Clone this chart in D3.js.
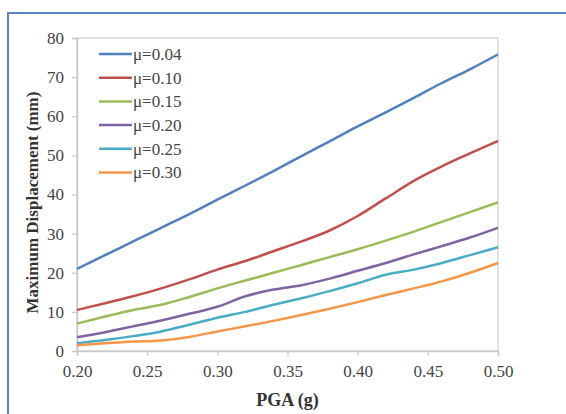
<!DOCTYPE html>
<html>
<head>
<meta charset="utf-8">
<script src="https://cdn.jsdelivr.net/npm/d3@7"></script>
<style>
  body { margin: 0; background: #fff; }
  svg { display: block; }
</style>
</head>
<body>
<div id="chart"></div>
<script>
// PGA values (g)
const pga = [0.20, 0.22, 0.24, 0.26, 0.28, 0.30, 0.32, 0.34, 0.36, 0.38, 0.40, 0.42, 0.44, 0.46, 0.48, 0.50];

// max displacement (mm) for each friction coefficient
const mu004 = [21, 24.5, 28, 31.5, 35, 38.7, 42.3, 46, 49.8, 53.6, 57.4, 61, 64.7, 68.5, 72, 75.8];
const mu010 = [10.5, 12.2, 14, 16, 18.3, 20.8, 23, 25.5, 28, 30.8, 34.5, 39, 43.5, 47.2, 50.5, 53.7];
const mu015 = [7, 8.8, 10.5, 11.8, 13.8, 16, 18, 20, 22, 24, 26, 28.2, 30.5, 33, 35.5, 38];
const mu020 = [3.5, 4.8, 6.3, 7.8, 9.5, 11.3, 14, 15.7, 16.8, 18.5, 20.5, 22.5, 24.7, 26.8, 29, 31.5];
const mu025 = [2, 2.8, 3.8, 5, 6.7, 8.5, 10, 11.8, 13.5, 15.3, 17.3, 19.5, 20.8, 22.5, 24.5, 26.5];
const mu030 = [1.5, 2, 2.4, 2.7, 3.6, 5, 6.3, 7.7, 9.2, 10.8, 12.5, 14.3, 16, 17.8, 20, 22.5];

const seriesNames = ['μ=0.04', 'μ=0.10', 'μ=0.15', 'μ=0.20', 'μ=0.25', 'μ=0.30'];
const seriesValues = [mu004, mu010, mu015, mu020, mu025, mu030];
const colors = ['#4f81bd', '#c0504d', '#9bbb59', '#8064a2', '#4bacc6', '#f79646'];

const xTicks = [0.20, 0.25, 0.30, 0.35, 0.40, 0.45, 0.50];
const yTicks = [0, 10, 20, 30, 40, 50, 60, 70, 80];

const width = 566, height = 414;
const margin = { left: 77, right: 68, top: 38, bottom: 63 };
const serif = '"Liberation Serif", "Times New Roman", serif';

const svg = d3.select('#chart').append('svg')
  .attr('width', width)
  .attr('height', height);

// outer frame
svg.append('rect')
  .attr('x', 8).attr('y', 13)
  .attr('width', 600).attr('height', 500)
  .attr('fill', 'none')
  .attr('stroke', '#5b86c5')
  .attr('stroke-width', 2);

const x = d3.scaleLinear().domain([0.20, 0.50]).range([margin.left, width - margin.right]);
const y = d3.scaleLinear().domain([0, 80]).range([height - margin.bottom, margin.top]);

// plot border
svg.append('rect')
  .attr('x', x(0.20)).attr('y', y(80))
  .attr('width', x(0.50) - x(0.20)).attr('height', y(0) - y(80))
  .attr('fill', 'none')
  .attr('stroke', '#d9d9d9')
  .attr('stroke-width', 1.5);

const xAxis = svg.append('g')
  .attr('transform', `translate(0,${y(0)})`)
  .call(d3.axisBottom(x).tickValues(xTicks).tickFormat(d3.format('.2f')).tickSize(5).tickPadding(9));

const yAxis = svg.append('g')
  .attr('transform', `translate(${x(0.20)},0)`)
  .call(d3.axisLeft(y).tickValues(yTicks).tickSize(5).tickPadding(8));

[xAxis, yAxis].forEach(g => {
  g.select('.domain').attr('stroke', '#c8c8c8').attr('stroke-width', 1.5);
  g.selectAll('.tick line').attr('stroke', '#c8c8c8').attr('stroke-width', 1.2);
  g.selectAll('.tick text')
    .attr('fill', '#444')
    .style('font-family', serif)
    .style('font-size', '17px');
});

// lines
const line = d3.line()
  .x((d, i) => x(pga[i]))
  .y(d => y(d))
  .curve(d3.curveMonotoneX);

svg.append('g')
  .selectAll('path')
  .data(seriesValues)
  .join('path')
  .attr('d', line)
  .attr('fill', 'none')
  .attr('stroke', (d, i) => colors[i])
  .attr('stroke-width', 2.5);

// legend
const legend = svg.append('g').attr('transform', 'translate(99,54)');
const items = legend.selectAll('g')
  .data(seriesNames)
  .join('g')
  .attr('transform', (d, i) => `translate(0,${i * 23.7})`);

items.append('line')
  .attr('x1', 0).attr('x2', 33)
  .attr('stroke', (d, i) => colors[i])
  .attr('stroke-width', 2.5);

items.append('text')
  .attr('x', 34)
  .attr('dy', '0.35em')
  .attr('fill', '#444')
  .style('font-family', serif)
  .style('font-size', '17px')
  .text(d => d);

// axis titles
svg.append('text')
  .attr('x', (x(0.20) + x(0.50)) / 2)
  .attr('y', 406)
  .attr('text-anchor', 'middle')
  .attr('fill', '#333')
  .style('font-family', serif)
  .style('font-size', '18px')
  .style('font-weight', 'bold')
  .text('PGA (g)');

svg.append('text')
  .attr('transform', `translate(38,${(y(0) + y(80)) / 2 + 8}) rotate(-90)`)
  .attr('text-anchor', 'middle')
  .attr('fill', '#333')
  .style('font-family', serif)
  .style('font-size', '17px')
  .style('font-weight', 'bold')
  .text('Maximum Displacement (mm)');
</script>
</body>
</html>
